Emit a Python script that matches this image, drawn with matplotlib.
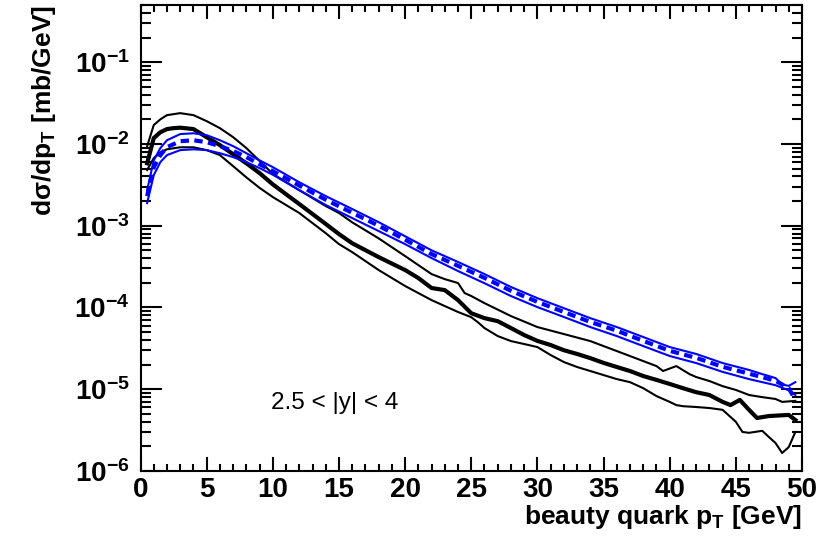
import matplotlib
matplotlib.use("Agg")
import matplotlib.pyplot as plt
from matplotlib import font_manager
from matplotlib.ticker import FixedLocator, LogLocator, MultipleLocator, NullFormatter

# ---------------- data ----------------
# black: central (thick), upper and lower uncertainty band edges
pt_c = [0.5, 1, 1.5, 2, 2.5, 3, 4, 5, 6, 7, 8, 9, 10, 12, 14, 15, 16, 18, 20, 21, 22, 23, 24, 25,
        26, 27, 28, 29, 30, 31, 32, 33, 34, 35, 36, 37, 38, 39, 40, 41, 42, 43, 44, 44.6, 45.3,
        46, 46.6, 47.5, 49, 49.5]
val_c = [5.8e-3, 1.18e-2, 1.39e-2, 1.52e-2, 1.56e-2, 1.58e-2, 1.52e-2, 1.21e-2, 9.67e-3, 7.5e-3,
         5.8e-3, 4.4e-3, 3.2e-3, 1.84e-3, 1.05e-3, 7.9e-4, 6.1e-4, 4.13e-4, 2.87e-4, 2.29e-4,
         1.73e-4, 1.63e-4, 1.23e-4, 8.5e-5, 7.4e-5, 6.8e-5, 5.6e-5, 4.6e-5, 3.9e-5, 3.47e-5,
         3.0e-5, 2.7e-5, 2.4e-5, 2.1e-5, 1.87e-5, 1.67e-5, 1.45e-5, 1.3e-5, 1.16e-5, 1.03e-5,
         9.2e-6, 8.5e-6, 7.0e-6, 6.4e-6, 7.4e-6, 5.6e-6, 4.45e-6, 4.7e-6, 4.85e-6, 4.2e-6]

pt_u = [0.5, 1, 1.5, 2, 3, 4, 5, 6, 7, 8, 9, 10, 12, 14, 15, 16, 18, 20, 22, 23, 24, 24.5, 25, 26,
        28, 30, 32, 34, 35, 36, 38, 39, 39.5, 40.5, 41.5, 42, 43, 44, 45, 46, 47, 48, 48.5, 49.5]
val_u = [9.4e-3, 1.70e-2, 2.0e-2, 2.25e-2, 2.38e-2, 2.25e-2, 1.9e-2, 1.56e-2, 1.21e-2, 8.9e-3,
         6.2e-3, 4.3e-3, 2.72e-3, 1.74e-3, 1.43e-3, 1.1e-3, 7.0e-4, 4.25e-4, 2.56e-4, 2.22e-4,
         1.99e-4, 1.5e-4, 1.38e-4, 1.13e-4, 7.85e-5, 5.76e-5, 4.73e-5, 3.88e-5, 3.37e-5, 2.93e-5,
         2.21e-5, 1.92e-5, 1.67e-5, 1.92e-5, 1.53e-5, 1.41e-5, 1.26e-5, 1.09e-5, 9.8e-6, 8.5e-6,
         8.0e-6, 7.6e-6, 7.0e-6, 7.2e-6]

pt_l = [0.5, 1, 1.5, 2, 3, 4, 5, 6, 7, 8, 9, 10, 12, 14, 15, 16, 18, 20, 22, 23, 24, 25, 25.5, 26,
        27, 28, 29, 30, 31, 32, 33, 34, 35, 36, 37, 38, 39, 40, 40.5, 41, 42, 43, 44, 45, 45.5,
        46, 47, 47.5, 48, 48.5, 49, 49.5]
val_l = [4.8e-3, 6.7e-3, 7.9e-3, 8.6e-3, 9.1e-3, 9.1e-3, 8.4e-3, 7.3e-3, 5.35e-3, 3.9e-3, 2.9e-3,
         2.24e-3, 1.43e-3, 8.1e-4, 5.96e-4, 4.75e-4, 2.87e-4, 1.83e-4, 1.23e-4, 1.04e-4, 8.8e-5,
         7.6e-5, 6.6e-5, 5.6e-5, 4.47e-5, 3.88e-5, 3.57e-5, 3.28e-5, 2.62e-5, 2.15e-5, 1.87e-5,
         1.67e-5, 1.49e-5, 1.33e-5, 1.22e-5, 1.03e-5, 8.25e-6, 7.0e-6, 6.4e-6, 6.2e-6, 6.06e-6,
         5.89e-6, 5.6e-6, 4.0e-6, 3.0e-6, 2.93e-6, 3.1e-6, 2.6e-6, 2.2e-6, 1.66e-6, 1.96e-6, 3.0e-6]

# blue: central (dashed), upper and lower band edges
pt_b = [0.5, 1, 1.5, 2, 3, 4, 5, 6, 7, 8, 9, 10, 12, 14, 16, 18, 20, 22, 24, 26, 28, 30, 32, 34,
        36, 38, 40, 42, 44, 46, 48, 49, 49.5]
val_bc = [2.30e-3, 5.2e-3, 7.3e-3, 9.13e-3, 1.08e-2, 1.11e-2, 1.05e-2, 9.4e-3, 8.2e-3, 6.9e-3,
          5.65e-3, 4.65e-3, 3.10e-3, 2.08e-3, 1.44e-3, 1.0e-3, 6.75e-4, 4.5e-4, 3.23e-4, 2.3e-4,
          1.6e-4, 1.17e-4, 8.8e-5, 6.65e-5, 5.2e-5, 3.9e-5, 2.95e-5, 2.42e-5, 1.88e-5, 1.55e-5,
          1.27e-5, 1.03e-5, 7.4e-6]

pt_bu = [0.5, 1, 1.5, 2, 3, 4, 5, 6, 7, 8, 9, 10, 12, 14, 16, 18, 20, 22, 24, 26, 28, 30, 32, 34,
         36, 38, 40, 42, 44, 46, 47, 48, 48.5, 49, 49.5]
val_bu = [2.72e-3, 6.3e-3, 8.9e-3, 1.11e-2, 1.32e-2, 1.35e-2, 1.28e-2, 1.11e-2, 9.4e-3, 7.7e-3,
          6.3e-3, 5.2e-3, 3.4e-3, 2.30e-3, 1.60e-3, 1.105e-3, 7.43e-4, 5.0e-4, 3.6e-4, 2.56e-4,
          1.78e-4, 1.3e-4, 9.8e-5, 7.4e-5, 5.76e-5, 4.35e-5, 3.28e-5, 2.7e-5, 2.09e-5, 1.72e-5,
          1.53e-5, 1.37e-5, 1.14e-5, 1.1e-5, 1.22e-5]

pt_bl = [0.5, 1, 1.5, 2, 3, 4, 5, 6, 7, 8, 9, 10, 12, 14, 16, 18, 20, 22, 24, 26, 28, 30, 32, 34,
         36, 38, 40, 42, 44, 46, 48, 49, 49.5]
val_bl = [1.89e-3, 4.15e-3, 6.0e-3, 7.3e-3, 8.4e-3, 8.6e-3, 8.4e-3, 7.7e-3, 6.9e-3, 6.0e-3,
          5.06e-3, 4.2e-3, 2.72e-3, 1.79e-3, 1.24e-3, 8.6e-4, 5.95e-4, 4.02e-4, 2.79e-4, 1.98e-4,
          1.38e-4, 1.01e-4, 7.65e-5, 5.76e-5, 4.47e-5, 3.37e-5, 2.55e-5, 2.09e-5, 1.63e-5, 1.33e-5,
          1.12e-5, 9.7e-6, 8.5e-6]

x_ticks = [0, 5, 10, 15, 20, 25, 30, 35, 40, 45, 50]
y_ticks = [1e-6, 1e-5, 1e-4, 1e-3, 1e-2, 1e-1]
y_ticklabels = [r"$\mathbf{10^{-6}}$", r"$\mathbf{10^{-5}}$", r"$\mathbf{10^{-4}}$",
                r"$\mathbf{10^{-3}}$", r"$\mathbf{10^{-2}}$", r"$\mathbf{10^{-1}}$"]
x_label = r"beauty quark p$_{\mathbf{T}}$ [GeV]"
y_label = r"dσ/dp$_{\mathbf{T}}$ [mb/GeV]"
annotation = "2.5 < |y| < 4"

# ---------------- style ----------------
available = {f.name for f in font_manager.fontManager.ttflist}
main_font = "Liberation Sans" if "Liberation Sans" in available else "DejaVu Sans"
plt.rcParams["font.family"] = [main_font, "DejaVu Sans"]
plt.rcParams["mathtext.fontset"] = "custom"
plt.rcParams["mathtext.bf"] = main_font + ":bold"
plt.rcParams["mathtext.rm"] = main_font
plt.rcParams["mathtext.it"] = main_font + ":italic"

fig = plt.figure(figsize=(8.34, 5.40), dpi=100)
ax = fig.add_axes([0.1685, 0.1278, 0.9616 - 0.1685, 0.9907 - 0.1278])

ax.plot(pt_u, val_u, color="black", lw=1.5, zorder=2)
ax.plot(pt_l, val_l, color="black", lw=1.5, zorder=2)
ax.plot(pt_c, val_c, color="black", lw=3.0, zorder=3)
ax.plot(pt_bu, val_bu, color="#0000ff", lw=1.5, zorder=4)
ax.plot(pt_bl, val_bl, color="#0000ff", lw=1.5, zorder=4)
ax.plot(pt_b, val_bc, color="#0000ff", lw=3.0, ls=(0, (2.0, 1.3)), zorder=5)

ax.set_yscale("log")
ax.set_xlim(0, 50)
ax.set_ylim(1e-6, 0.5)

ax.xaxis.set_major_locator(FixedLocator(x_ticks))
ax.xaxis.set_minor_locator(MultipleLocator(1))
ax.yaxis.set_major_locator(FixedLocator(y_ticks))
ax.yaxis.set_minor_locator(LogLocator(base=10, subs=range(2, 10), numticks=20))
ax.yaxis.set_minor_formatter(NullFormatter())
ax.set_xticklabels([str(v) for v in x_ticks], fontsize=20, fontweight="bold")
ax.set_yticklabels(y_ticklabels, fontsize=20)

ax.tick_params(axis="both", which="both", direction="in", top=True, right=True, width=1.5)
ax.tick_params(axis="y", which="major", length=15, pad=8)
ax.tick_params(axis="y", which="minor", length=7.5)
ax.tick_params(axis="x", which="major", length=10, pad=4)
ax.tick_params(axis="x", which="minor", length=5)
for s in ax.spines.values():
    s.set_linewidth(1.5)

ax.set_xlabel(x_label, fontsize=19, fontweight="bold", loc="right", labelpad=0)
ax.set_ylabel(y_label, fontsize=19, fontweight="bold", loc="top", labelpad=12)

ax.text(14.7, 6.8e-6, annotation, fontsize=17.5, ha="center", va="center")

fig.savefig("out.png", dpi=100)
